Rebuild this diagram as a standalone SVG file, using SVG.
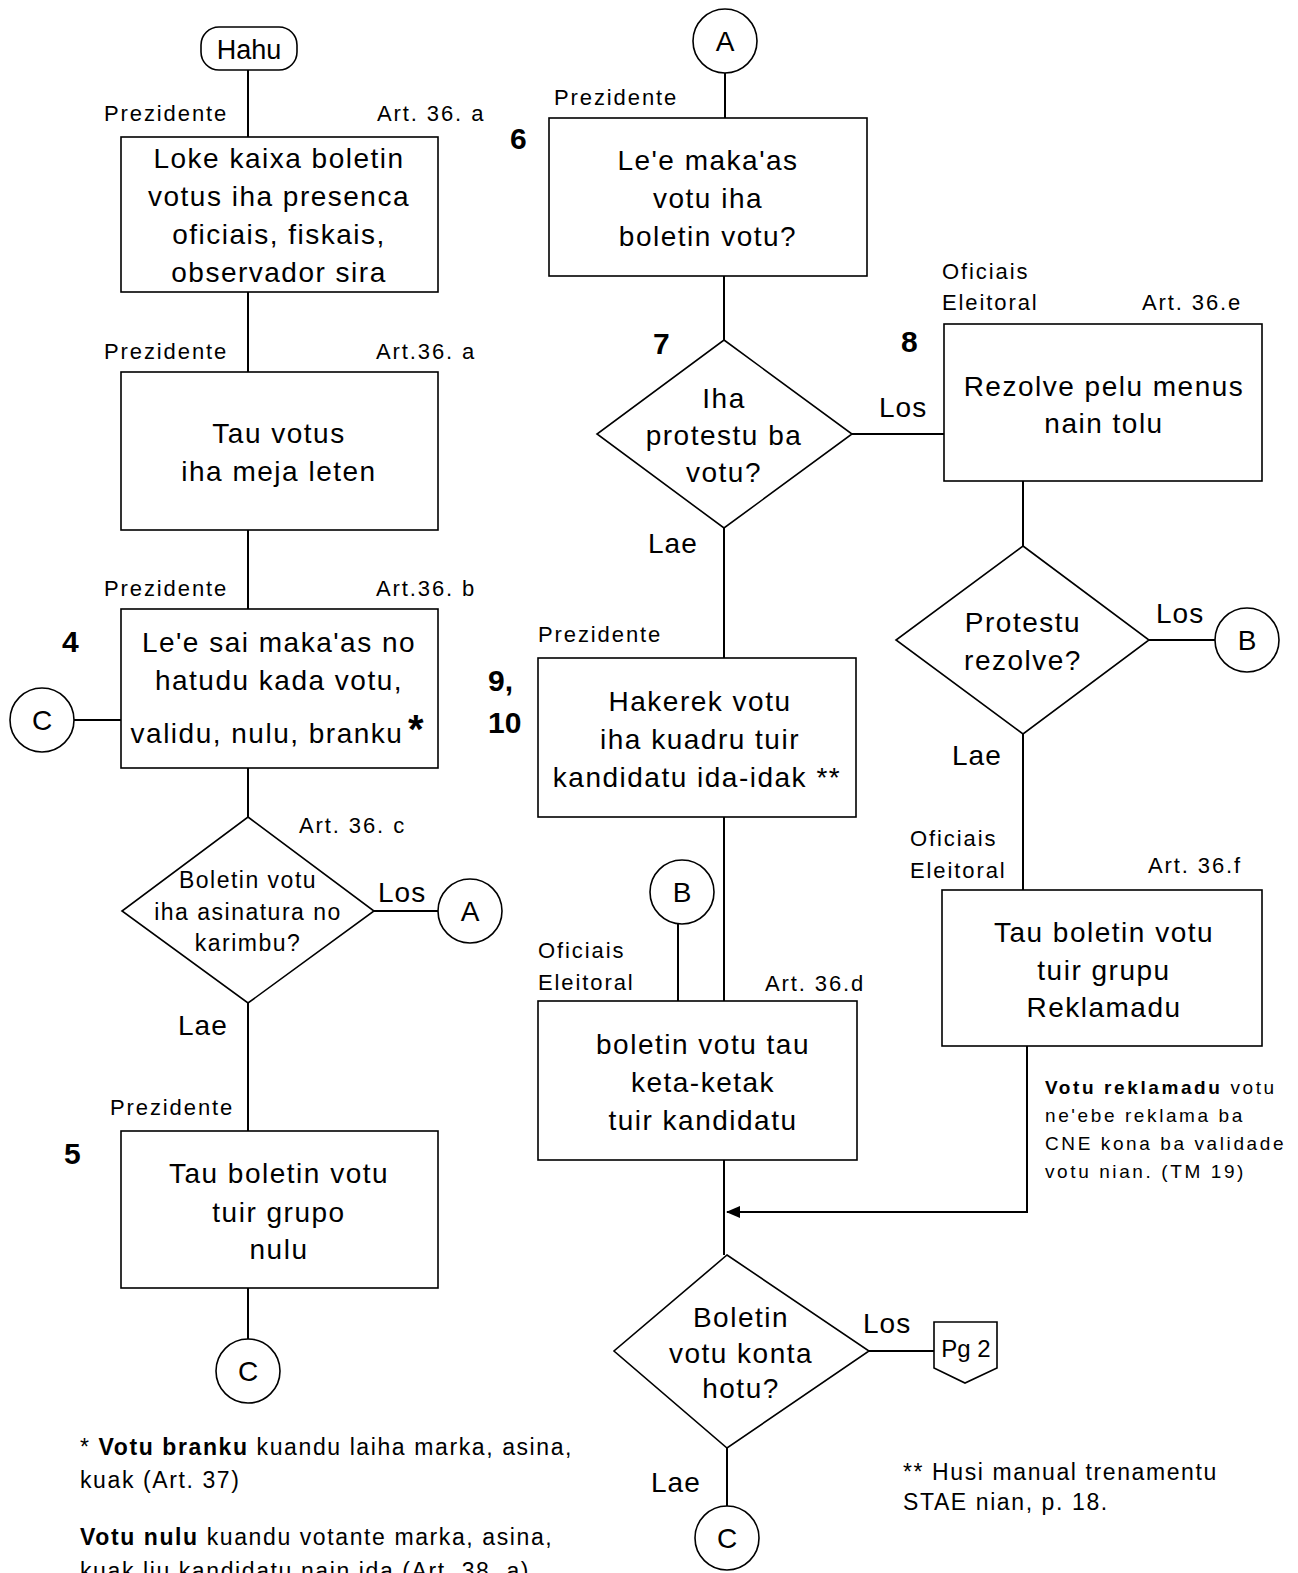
<svg xmlns="http://www.w3.org/2000/svg" width="1298" height="1573" viewBox="0 0 1298 1573">
<style>
text{font-family:"Liberation Sans",Arial,sans-serif;fill:#000}
.bx{fill:#fff;stroke:#000;stroke-width:1.6}
.ln{fill:none;stroke:#000;stroke-width:2}
.t{font-size:28px;letter-spacing:1.5px;text-anchor:middle}
.dt{font-size:23px;letter-spacing:1.5px;text-anchor:middle}
.lb{font-size:22px;letter-spacing:1.9px}
.yn{font-size:28px;letter-spacing:1px}
.num{font-size:30px;font-weight:bold}
.ft{font-size:23px;letter-spacing:1.6px}
.nt{font-size:19px;letter-spacing:2.6px}
.cc{font-size:28px;text-anchor:middle}
</style>
<defs>
<marker id="arr" markerWidth="14" markerHeight="12" refX="13" refY="6" orient="auto" markerUnits="userSpaceOnUse">
<path d="M0,0 L14,6 L0,12 z" fill="#000"/>
</marker>
</defs>
<rect width="1298" height="1573" fill="#fff"/>
<g id="connectors">
<path class="ln" d="M248,70 V137 M248,292 V372 M248,530 V609 M248,768 V817 M74,720 H121 M374,911 H438 M248,1003 V1131 M248,1288 V1339"/>
<path class="ln" d="M725,73 V118 M724,276 V340 M852,434 H944 M724,528 V658 M724,817 V1001 M678,924 V1001 M724,1160 V1255 M869,1351 H934 M727,1448 V1506"/>
<path class="ln" d="M1023,481 V546 M1149,640 H1215 M1023,734 V890"/>
<path class="ln" d="M1027,1046 V1212 H727" marker-end="url(#arr)"/>
</g>
<g id="hahu"><rect class="bx" x="201" y="27" width="96" height="43" rx="18"/><text class="cc" x="249" y="59" style="font-size:27px">Hahu</text></g>
<g id="n1">
<text class="lb" x="104" y="121">Prezidente</text><text class="lb" x="377" y="121">Art. 36. a</text>
<rect class="bx" x="121" y="137" width="317" height="155"/>
<text class="t" x="279" y="168">Loke kaixa boletin</text>
<text class="t" x="279" y="206">votus iha presenca</text>
<text class="t" x="279" y="244">oficiais, fiskais,</text>
<text class="t" x="279" y="282">observador sira</text>
</g>
<g id="n2">
<text class="lb" x="104" y="359">Prezidente</text><text class="lb" x="376" y="359">Art.36. a</text>
<rect class="bx" x="121" y="372" width="317" height="158"/>
<text class="t" x="279" y="443">Tau votus</text>
<text class="t" x="279" y="481">iha meja leten</text>
</g>
<g id="n4">
<text class="lb" x="104" y="596">Prezidente</text><text class="lb" x="376" y="596">Art.36. b</text>
<text class="num" x="62" y="652">4</text>
<rect class="bx" x="121" y="609" width="317" height="159"/>
<text class="t" x="279" y="652">Le'e sai maka'as no</text>
<text class="t" x="279" y="690">hatudu kada votu,</text>
<text class="t" x="267" y="743">validu, nulu, branku</text>
<text x="408" y="743" style="font-size:40px;font-weight:bold">*</text>
</g>
<g id="c1"><circle class="bx" cx="42" cy="720" r="32"/><text class="cc" x="42" y="730">C</text></g>
<g id="d1">
<text class="lb" x="299" y="833">Art. 36. c</text>
<polygon class="bx" points="248,817 374,911 248,1003 122,911"/>
<text class="dt" x="248" y="888">Boletin votu</text>
<text class="dt" x="248" y="920">iha asinatura no</text>
<text class="dt" x="248" y="951">karimbu?</text>
<text class="yn" x="378" y="902">Los</text>
<text class="yn" x="178" y="1035">Lae</text>
</g>
<g id="a1"><circle class="bx" cx="470" cy="911" r="32"/><text class="cc" x="470" y="921">A</text></g>
<g id="n5">
<text class="lb" x="110" y="1115">Prezidente</text>
<text class="num" x="64" y="1164">5</text>
<rect class="bx" x="121" y="1131" width="317" height="157"/>
<text class="t" x="279" y="1183">Tau boletin votu</text>
<text class="t" x="279" y="1222">tuir grupo</text>
<text class="t" x="279" y="1259">nulu</text>
</g>
<g id="c2"><circle class="bx" cx="248" cy="1371" r="32"/><text class="cc" x="248" y="1381">C</text></g>
<g id="a2"><circle class="bx" cx="725" cy="41" r="32"/><text class="cc" x="725" y="51">A</text></g>
<g id="n6">
<text class="lb" x="554" y="105">Prezidente</text>
<text class="num" x="510" y="149">6</text>
<rect class="bx" x="549" y="118" width="318" height="158"/>
<text class="t" x="708" y="170">Le'e maka'as</text>
<text class="t" x="708" y="208">votu iha</text>
<text class="t" x="708" y="246">boletin votu?</text>
</g>
<g id="d7">
<text class="num" x="653" y="354">7</text>
<polygon class="bx" points="724,340 852,434 724,528 597,434"/>
<text class="t" x="724" y="408">Iha</text>
<text class="t" x="724" y="445">protestu ba</text>
<text class="t" x="724" y="482">votu?</text>
<text class="yn" x="879" y="417">Los</text>
<text class="yn" x="648" y="553">Lae</text>
</g>
<g id="n8">
<text class="lb" x="942" y="279">Oficiais</text><text class="lb" x="942" y="310">Eleitoral</text><text class="lb" x="1142" y="310">Art. 36.e</text>
<text class="num" x="901" y="352">8</text>
<rect class="bx" x="944" y="324" width="318" height="157"/>
<text class="t" x="1104" y="396">Rezolve pelu menus</text>
<text class="t" x="1104" y="433">nain tolu</text>
</g>
<g id="d8">
<polygon class="bx" points="1023,546 1149,640 1023,734 896,640"/>
<text class="t" x="1023" y="632">Protestu</text>
<text class="t" x="1023" y="670">rezolve?</text>
<text class="yn" x="1156" y="623">Los</text>
<text class="yn" x="952" y="765">Lae</text>
</g>
<g id="b1"><circle class="bx" cx="1247" cy="640" r="32"/><text class="cc" x="1247" y="650">B</text></g>
<g id="n9">
<text class="lb" x="538" y="642">Prezidente</text>
<text class="num" x="488" y="691">9,</text>
<text class="num" x="488" y="733">10</text>
<rect class="bx" x="538" y="658" width="318" height="159"/>
<text class="t" x="700" y="711">Hakerek votu</text>
<text class="t" x="700" y="749">iha kuadru tuir</text>
<text class="t" x="697" y="787">kandidatu ida-idak **</text>
</g>
<g id="b2"><circle class="bx" cx="682" cy="892" r="32"/><text class="cc" x="682" y="902">B</text></g>
<g id="nd">
<text class="lb" x="538" y="958">Oficiais</text><text class="lb" x="538" y="990">Eleitoral</text><text class="lb" x="765" y="991">Art. 36.d</text>
<rect class="bx" x="538" y="1001" width="319" height="159"/>
<text class="t" x="703" y="1054">boletin votu tau</text>
<text class="t" x="703" y="1092">keta-ketak</text>
<text class="t" x="703" y="1130">tuir kandidatu</text>
</g>
<g id="nf">
<text class="lb" x="910" y="846">Oficiais</text><text class="lb" x="910" y="878">Eleitoral</text><text class="lb" x="1148" y="873">Art. 36.f</text>
<rect class="bx" x="942" y="890" width="320" height="156"/>
<text class="t" x="1104" y="942">Tau boletin votu</text>
<text class="t" x="1104" y="980">tuir grupu</text>
<text class="t" x="1104" y="1017">Reklamadu</text>
</g>
<g id="note">
<text class="nt" x="1045" y="1094"><tspan font-weight="bold">Votu reklamadu</tspan> votu</text>
<text class="nt" x="1045" y="1122">ne'ebe reklama ba</text>
<text class="nt" x="1045" y="1150">CNE kona ba validade</text>
<text class="nt" x="1045" y="1178">votu nian. (TM 19)</text>
</g>
<g id="d10">
<polygon class="bx" points="727,1255 869,1351 727,1448 614,1351"/>
<text class="t" x="741" y="1327">Boletin</text>
<text class="t" x="741" y="1363">votu konta</text>
<text class="t" x="741" y="1398">hotu?</text>
<text class="yn" x="863" y="1333">Los</text>
<text class="yn" x="651" y="1492">Lae</text>
</g>
<g id="pg2"><path class="bx" d="M934,1322 H997 V1368 L965,1383 L934,1368 Z"/><text x="966" y="1357" style="font-size:24px;text-anchor:middle">Pg 2</text></g>
<g id="c3"><circle class="bx" cx="727" cy="1538" r="32"/><text class="cc" x="727" y="1548">C</text></g>
<g id="footnotes">
<text class="ft" x="80" y="1455">* <tspan font-weight="bold">Votu branku</tspan> kuandu laiha marka, asina,</text>
<text class="ft" x="80" y="1488">kuak (Art. 37)</text>
<text class="ft" x="80" y="1545"><tspan font-weight="bold">Votu nulu</tspan> kuandu votante  marka, asina,</text>
<text class="ft" x="80" y="1579">kuak liu kandidatu  nain ida (Art. 38. a)</text>
<text class="ft" x="903" y="1480">** Husi manual trenamentu</text>
<text class="ft" x="903" y="1510">STAE nian, p. 18.</text>
</g>
</svg>
